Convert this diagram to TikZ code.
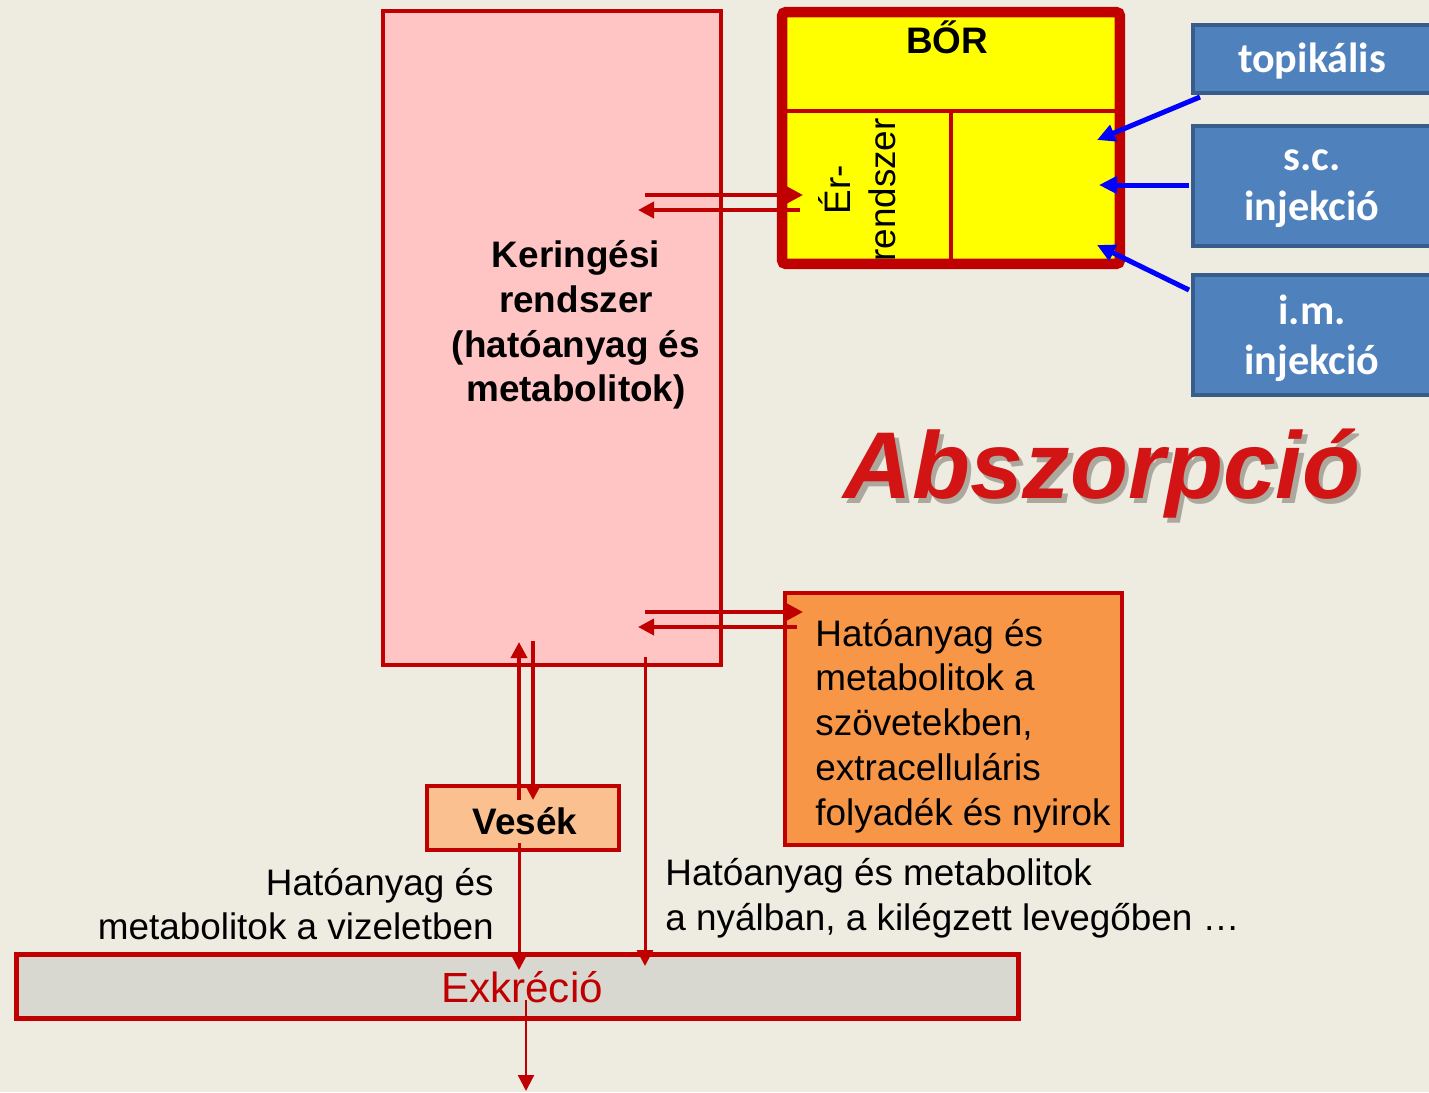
\documentclass[tikz,border=0pt]{standalone}
\usepackage{fontspec}
\setmainfont{Liberation Sans}
\newfontfamily\calibri{Carlito}
\usetikzlibrary{arrows.meta}

\definecolor{bgcream}{RGB}{238,236,225}
\definecolor{darkred}{RGB}{192,0,0}
\definecolor{pinkfill}{RGB}{255,197,197}
\definecolor{skinyellow}{RGB}{255,255,0}
\definecolor{routeblue}{RGB}{79,129,189}
\definecolor{routeedge}{RGB}{56,93,138}
\definecolor{tissueorange}{RGB}{247,150,70}
\definecolor{kidneypeach}{RGB}{250,192,144}
\definecolor{excgray}{RGB}{216,216,208}
\definecolor{titlered}{RGB}{210,20,20}
\definecolor{titleshade}{RGB}{172,168,158}

\begin{document}
\begin{tikzpicture}[x=0.02cm,y=-0.02cm]
    \tikzset{box/.style = {shape=rectangle,draw=darkred,line width=0.08cm,inner sep=0pt}}
    \tikzset{route/.style = {shape=rectangle,draw=routeedge,fill=routeblue,line width=0.08cm,inner sep=0pt,minimum width=4.76cm}}
    \tikzset{routetext/.style = {inner sep=0pt,text=white,align=center,font=\calibri\bfseries\fontsize{24}{28.5}\selectfont}}
    \tikzset{plain/.style = {inner sep=0pt,font=\fontsize{21}{25.5}\selectfont}}
    \tikzset{flow/.style = {-{Triangle[length=0.32cm,width=0.32cm]},draw=darkred,line width=0.075cm}}
    \tikzset{inject/.style = {-{Triangle[length=0.36cm,width=0.34cm]},draw=blue,line width=0.1cm}}
    % background
    \fill[bgcream] (0,0) rectangle (1429,1092);
    \useasboundingbox (0,0) rectangle (1429,1092);
    % boxes
    \node[box,fill=pinkfill,minimum width=6.76cm,minimum height=13.08cm] (kering) at (552,338) {};
    \node[plain,font=\bfseries\fontsize{21}{25.5}\selectfont,align=center] (keringtext) at (576,325)
        {Keringési\\rendszer\\(hatóanyag és\\metabolitok)};
    \node[box,fill=skinyellow,line width=0.21cm,rounded corners=0.08cm,minimum width=6.76cm,minimum height=5.04cm] (bor) at (951,138) {};
    \draw[darkred,line width=0.07cm] (787,111) -- (1115,111);
    \draw[darkred,line width=0.07cm] (951,113) -- (951,259);
    \node[plain,font=\bfseries\fontsize{21}{25.5}\selectfont,anchor=base] (bortext) at (947,53) {BŐR};
    \node[plain,align=center,rotate=90] (errendszer) at (857,190) {Ér-\\rendszer};
    \node[route,minimum height=1.36cm] (topikalis) at (1312,59) {};
    \node[routetext] (topikalistext) at (1312,61) {topikális};
    \node[route,minimum height=2.4cm] (sc) at (1312,186) {};
    \node[routetext] (sctext) at (1312,189) {s.c.\\injekció};
    \node[route,minimum height=2.4cm] (im) at (1312,335) {};
    \node[routetext] (imtext) at (1312,338) {i.m.\\injekció};
    \node[box,fill=tissueorange,minimum width=6.74cm,minimum height=5.04cm] (szovet) at (953.5,719) {};
    \node[plain,align=left,anchor=west] (szovettext) at (815,726)
        {Hatóanyag és\\metabolitok a\\szövetekben,\\extracelluláris\\folyadék és nyirok};
    \node[box,fill=kidneypeach,minimum width=3.84cm,minimum height=1.28cm] (vesek) at (523,818) {};
    \node[plain,font=\bfseries\fontsize{21}{25.5}\selectfont] (vesektext) at (525,821) {Vesék};
    \node[box,fill=excgray,line width=0.1cm,minimum width=20.04cm,minimum height=1.28cm] (exkrecio) at (517.5,986.5) {};
    % points where the arrows start and end
    \coordinate (k1) at (645,195);  \coordinate (e1) at (803,195);
    \coordinate (e2) at (800,210);  \coordinate (k2) at (638,210);
    \coordinate (k3) at (645,612);  \coordinate (s1) at (803,612);
    \coordinate (s2) at (797,627);  \coordinate (k4) at (638,627);
    \coordinate (v1) at (519,800);  \coordinate (k5) at (519,642);
    \coordinate (k6) at (533,641);  \coordinate (v2) at (533,800);
    \coordinate (v3) at (519,843);  \coordinate (x1) at (519,970);
    \coordinate (k7) at (645,657);  \coordinate (x2) at (645,966);
    \coordinate (x3) at (526,1000); \coordinate (out) at (526,1091);
    \coordinate (t1) at (1200,97);  \coordinate (b1) at (1097,140);
    \coordinate (t2) at (1189,185); \coordinate (b2) at (1099,185);
    \coordinate (t3) at (1189,290); \coordinate (b3) at (1097,245);
    % edges
    \draw[flow] (k1) -- (e1);
    \draw[flow] (e2) -- (k2);
    \draw[flow] (k3) -- (s1);
    \draw[flow] (s2) -- (k4);
    \draw[flow] (v1) -- (k5);
    \draw[flow] (k6) -- (v2);
    \draw[flow,line width=0.06cm] (v3) -- (x1);
    \draw[flow,line width=0.06cm] (k7) -- (x2);
    \node[plain,text=darkred,font=\fontsize{24}{28}\selectfont] (exkreciotext) at (522,987) {Exkréció};
    \draw[flow,line width=0.045cm] (x3) -- (out);
    \draw[inject] (t1) -- (b1);
    \draw[inject] (t2) -- (b2);
    \draw[inject] (t3) -- (b3);
    % texts beside the excretion arrows
    \node[plain,align=right,anchor=east] (vizelet) at (494,904) {Hatóanyag és\\metabolitok a vizeletben};
    \node[plain,align=left,anchor=west] (nyal) at (665,898) {Hatóanyag és metabolitok\\a nyálban, a kilégzett levegőben …};
    % title with its shadow
    \node[font=\bfseries\itshape\fontsize{54}{60}\selectfont,text=titlered,anchor=base,inner sep=0pt] (title) at (1102,498)
        {\rlap{\hspace{2.5pt}\raisebox{-3.2pt}{\color{titleshade}Abszorpció}}Abszorpció};
\end{tikzpicture}
\end{document}
